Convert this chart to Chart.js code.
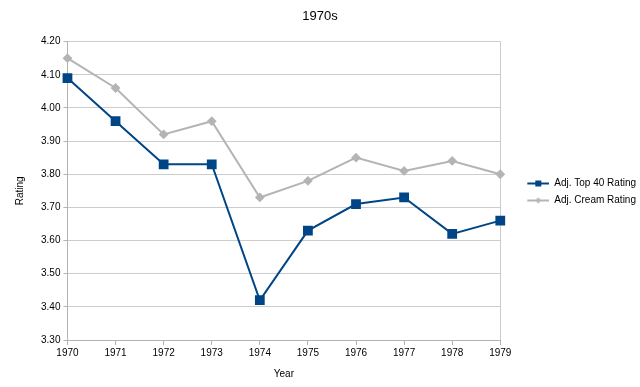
<!DOCTYPE html>
<html lang="en">
<head>
    <meta charset="UTF-8">
    <title>1970s</title>
    <script src="https://cdn.jsdelivr.net/npm/chart.js"></script>
    <style>
        html, body { margin: 0; padding: 0; background: #fff; }
    </style>
</head>
<body>
    <canvas id="chart" width="640" height="387"></canvas>

    <script>
        // Chart data
        const years = ['1970', '1971', '1972', '1973', '1974', '1975', '1976', '1977', '1978', '1979'];
        const top40Rating = [4.09, 3.96, 3.83, 3.83, 3.42, 3.63, 3.71, 3.73, 3.62, 3.66];
        const creamRating = [4.15, 4.06, 3.92, 3.96, 3.73, 3.78, 3.85, 3.81, 3.84, 3.80];

        const NAVY = '#004586';
        const GREY = '#b4b4b4';
        const GRID = '#cccccc';
        const AXIS = '#b3b3b3';

        // legend symbol: short line with the marker at its middle,
        // blank space on the left pushes it away from the plot
        function legendSymbol(color, style) {
            const c = document.createElement('canvas');
            c.width = 42; c.height = 10;
            const g = c.getContext('2d');
            g.strokeStyle = color;
            g.fillStyle = color;
            g.lineWidth = 2;
            g.beginPath(); g.moveTo(20, 5); g.lineTo(42, 5); g.stroke();
            if (style === 'rect') {
                g.fillRect(28, 2, 6, 6);
            } else {
                g.beginPath();
                g.moveTo(31, 2); g.lineTo(34, 5); g.lineTo(31, 8); g.lineTo(28, 5);
                g.closePath(); g.fill();
            }
            return c;
        }

        Chart.defaults.font.family = '"Liberation Sans", Arial, sans-serif';
        Chart.defaults.font.size = 10;
        Chart.defaults.color = '#000';

        new Chart(document.getElementById('chart'), {
            type: 'line',
            data: {
                labels: years,
                datasets: [{
                    label: 'Adj. Top 40 Rating',
                    data: top40Rating,
                    borderColor: NAVY,
                    backgroundColor: NAVY,
                    borderWidth: 2,
                    pointStyle: 'rect',
                    pointRadius: 5.5,
                    tension: 0,
                    fill: false,
                    legendImg: legendSymbol(NAVY, 'rect')
                }, {
                    label: 'Adj. Cream Rating',
                    data: creamRating,
                    borderColor: GREY,
                    backgroundColor: GREY,
                    borderWidth: 2,
                    pointStyle: 'rectRot',
                    pointRadius: 3.5,
                    tension: 0,
                    fill: false,
                    legendImg: legendSymbol(GREY, 'diamond')
                }]
            },
            options: {
                responsive: false,
                animation: false,
                // negative sides keep the title centred on the canvas
                layout: { padding: { left: -6, right: -6, top: 0, bottom: 3 } },
                plugins: {
                    title: {
                        display: true,
                        text: '1970s',
                        font: { size: 13, weight: 'normal' },
                        padding: { top: 9, bottom: 17 }
                    },
                    legend: {
                        position: 'right',
                        labels: {
                            usePointStyle: true,
                            pointStyleWidth: 42,
                            padding: 7,
                            generateLabels(chart) {
                                return chart.data.datasets.map((ds, i) => ({
                                    text: ds.label,
                                    pointStyle: ds.legendImg,
                                    fillStyle: ds.borderColor,
                                    strokeStyle: ds.borderColor,
                                    lineWidth: 0,
                                    datasetIndex: i,
                                    hidden: false
                                }));
                            }
                        }
                    },
                    tooltip: { enabled: false }
                },
                scales: {
                    x: {
                        offset: false,
                        title: { display: true, text: 'Year', padding: { top: 7, bottom: 4 } },
                        ticks: { maxRotation: 0, padding: 2 },
                        grid: {
                            color: ctx => ctx.index === years.length - 1 ? GRID : 'rgba(0,0,0,0)',
                            tickColor: AXIS,
                            tickLength: 5
                        },
                        border: { color: AXIS }
                    },
                    y: {
                        min: 3.3,
                        max: 4.2,
                        title: { display: true, text: 'Rating', padding: { top: 20, bottom: 12 } },
                        ticks: {
                            stepSize: 0.1,
                            padding: 3,
                            callback: v => v.toFixed(2)
                        },
                        grid: { color: GRID, tickColor: AXIS, tickLength: 4 },
                        border: { color: AXIS }
                    }
                }
            }
        });
    </script>
</body>
</html>
